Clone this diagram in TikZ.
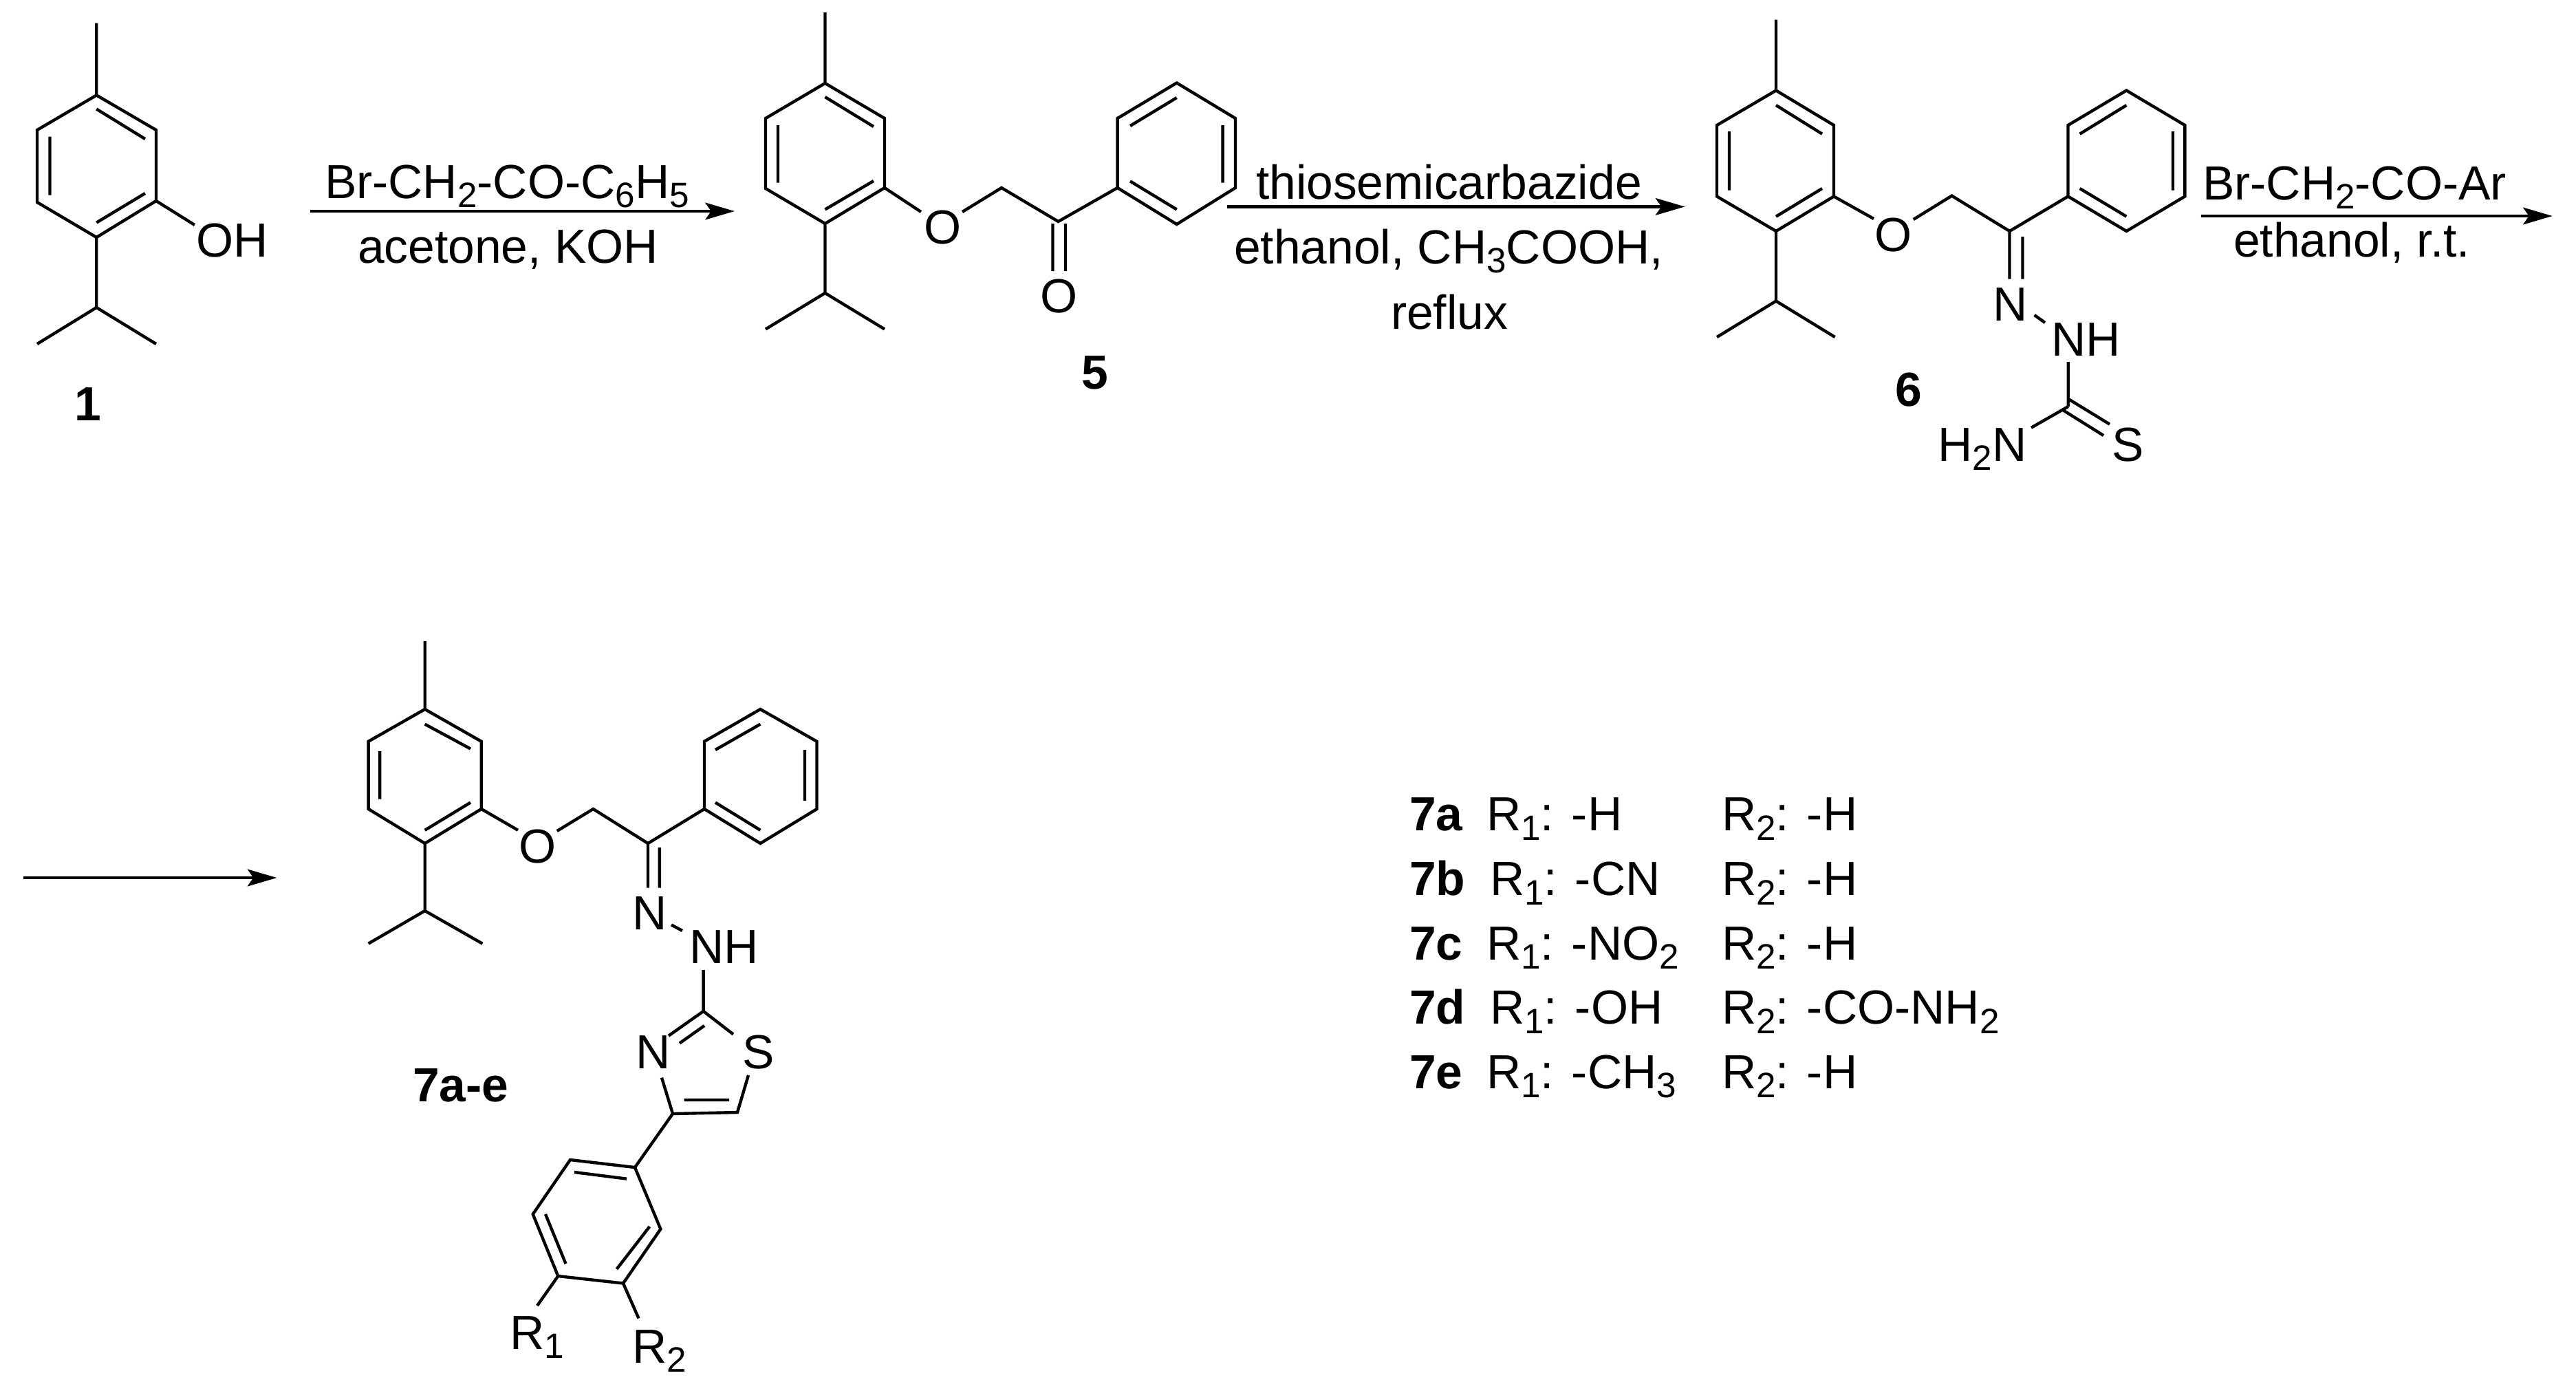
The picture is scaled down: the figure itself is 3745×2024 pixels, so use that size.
\documentclass[tikz,border=0pt]{standalone}
\usepackage{fontspec}
\setmainfont{Liberation Sans}
\usetikzlibrary{arrows.meta}
\newcommand{\sbs}[1]{\raisebox{-3.2pt}{\fontsize{12.3pt}{14pt}\selectfont #1}}
\tikzset{
  bond/.style={line width=1.05pt,line join=miter,line cap=butt},
  rxn/.style={line width=1.13pt,-{Stealth[length=10.2pt,width=5.9pt,inset=2pt]}},
  txt/.style={anchor=base west,inner sep=0pt,outer sep=0pt,font=\fontsize{16.7pt}{20pt}\selectfont},
  lbl/.style={txt,font=\fontsize{16.7pt}{20pt}\selectfont\bfseries}
}
\begin{document}
\begin{tikzpicture}[x=0.24pt,y=-0.24pt]
\useasboundingbox (0,0) rectangle (3745,2024);
% ---------- compound 1
\coordinate (a0) at (140.3,33.5);
\coordinate (a1) at (140.3,138.4);
\coordinate (a2) at (227,189);
\coordinate (a3) at (227,292);
\coordinate (a4) at (140.3,345);
\coordinate (a5) at (54,294);
\coordinate (a6) at (54,189);
\coordinate (a7) at (140.3,447);
\coordinate (a8) at (54,500);
\coordinate (a9) at (227,500);
\coordinate (aO) at (283,327);
\coordinate (ai1) at (140.3,158.5);
\coordinate (ai2) at (211,202);
\coordinate (ai3) at (72.5,198.6);
\coordinate (ai4) at (72.5,283.5);
\coordinate (ai5) at (140.3,323.6);
\coordinate (ai6) at (211,281);
\draw[bond] (a1)--(a2)--(a3)--(a4)--(a5)--(a6)--cycle;
\draw[bond] (a0)--(a1) (a4)--(a7) (a8)--(a7)--(a9) (a3)--(aO);
\draw[bond] (ai1)--(ai2) (ai3)--(ai4) (ai5)--(ai6);
\node[txt] (oh1) at (285,373) {OH};
\node[lbl] (n1) at (108,611) {1};
% ---------- arrow 1
\coordinate (r1s) at (451,307);
\coordinate (r1e) at (1068,307);
\draw[rxn] (r1s)--(r1e);
\node[txt] (r1a) at (472,288) {Br-CH\sbs{2}-CO-C\sbs{6}H\sbs{5}};
\node[txt] (r1b) at (520,382) {acetone, KOH};
% ---------- compound 5
\coordinate (b0) at (1199.5,18);
\coordinate (b1) at (1199.5,121);
\coordinate (b2) at (1286,172);
\coordinate (b3) at (1286,273);
\coordinate (b4) at (1199.5,325);
\coordinate (b5) at (1113,274);
\coordinate (b6) at (1113,172);
\coordinate (b7) at (1199.5,426);
\coordinate (b8) at (1113,478.5);
\coordinate (b9) at (1286,478.5);
\coordinate (bi1) at (1199.5,141);
\coordinate (bi2) at (1270,184);
\coordinate (bi3) at (1131,182);
\coordinate (bi4) at (1131,265.5);
\coordinate (bi5) at (1199.5,304.5);
\coordinate (bi6) at (1270,263);
\coordinate (bO1) at (1339,308);
\coordinate (bO2) at (1399,308);
\coordinate (bc) at (1456,273);
\coordinate (bd) at (1538.5,322);
\coordinate (be) at (1624.6,273);
\coordinate (bf) at (1710.7,120.5);
\coordinate (bg) at (1624.6,172);
\coordinate (bh) at (1796,172);
\coordinate (bj) at (1796,273);
\coordinate (bk) at (1710.7,326);
\coordinate (bl1) at (1710.7,142);
\coordinate (bl2) at (1643,183);
\coordinate (bl3) at (1777.6,182);
\coordinate (bl4) at (1777.6,265.6);
\coordinate (bl5) at (1643,263.4);
\coordinate (bl6) at (1710.7,304.5);
\coordinate (bm1) at (1530.5,325);
\coordinate (bm2) at (1530.5,394);
\coordinate (bm3) at (1549,325);
\coordinate (bm4) at (1549,394);
\draw[bond] (b1)--(b2)--(b3)--(b4)--(b5)--(b6)--cycle;
\draw[bond] (b0)--(b1) (b4)--(b7) (b8)--(b7)--(b9) (b3)--(bO1) (bO2)--(bc)--(bd)--(be);
\draw[bond] (bi1)--(bi2) (bi3)--(bi4) (bi5)--(bi6);
\draw[bond] (be)--(bg)--(bf)--(bh)--(bj)--(bk)--cycle;
\draw[bond] (bl1)--(bl2) (bl3)--(bl4) (bl5)--(bl6) (bm1)--(bm2) (bm3)--(bm4);
\node[txt] (o5a) at (1343,354) {O};
\node[txt] (o5b) at (1512,454) {O};
\node[lbl] (n5) at (1572,565) {5};
% ---------- arrow 2
\coordinate (r2s) at (1784,300.4);
\coordinate (r2e) at (2449.5,300.4);
\draw[rxn] (r2s)--(r2e);
\node[txt] (r2a) at (1826,289) {thiosemicarbazide};
\node[txt] (r2b) at (1794,383) {ethanol, CH\sbs{3}COOH,};
\node[txt] (r2c) at (2022,478.5) {reflux};
% ---------- compound 6
\coordinate (c0) at (2582,28.7);
\coordinate (c1) at (2582,131.5);
\coordinate (c2) at (2666,182);
\coordinate (c3) at (2666,285.5);
\coordinate (c4) at (2582,336);
\coordinate (c5) at (2496,285.5);
\coordinate (c6) at (2496,182);
\coordinate (c7) at (2582,437.6);
\coordinate (c8) at (2496,490);
\coordinate (c9) at (2667.6,490);
\coordinate (ci1) at (2582,153);
\coordinate (ci2) at (2649,194.7);
\coordinate (ci3) at (2514,191);
\coordinate (ci4) at (2514,276.5);
\coordinate (ci5) at (2582,314.7);
\coordinate (ci6) at (2649,274);
\coordinate (cO1) at (2724,318);
\coordinate (cO2) at (2781.7,319);
\coordinate (cc) at (2837.5,284.6);
\coordinate (cd) at (2921.5,336);
\coordinate (ce) at (3006.5,285.5);
\coordinate (cf) at (3091.4,131.5);
\coordinate (cg) at (3006.5,182);
\coordinate (ch) at (3176.3,182);
\coordinate (cj) at (3176.3,285.5);
\coordinate (ck) at (3091.4,336);
\coordinate (cl1) at (3091.4,153);
\coordinate (cl2) at (3023.6,194.7);
\coordinate (cl3) at (3159,191);
\coordinate (cl4) at (3159,276.5);
\coordinate (cl5) at (3023.6,274);
\coordinate (cl6) at (3091.4,314.7);
\coordinate (cm1) at (2921.5,336);
\coordinate (cm2) at (2921.5,405.6);
\coordinate (cm3) at (2940.4,344);
\coordinate (cm4) at (2940.4,405.6);
\coordinate (cn1) at (2957.6,458);
\coordinate (cn2) at (2973,469);
\coordinate (cp1) at (3006.7,526);
\coordinate (cp2) at (3006.7,591);
\coordinate (cq1) at (3007,580);
\coordinate (cq2) at (3067,616.7);
\coordinate (cq3) at (3000,596.7);
\coordinate (cq4) at (3058,633);
\coordinate (cr) at (2953,621.7);
\draw[bond] (c1)--(c2)--(c3)--(c4)--(c5)--(c6)--cycle;
\draw[bond] (c0)--(c1) (c4)--(c7) (c8)--(c7)--(c9) (c3)--(cO1) (cO2)--(cc)--(cd)--(ce);
\draw[bond] (ci1)--(ci2) (ci3)--(ci4) (ci5)--(ci6);
\draw[bond] (ce)--(cg)--(cf)--(ch)--(cj)--(ck)--cycle;
\draw[bond] (cl1)--(cl2) (cl3)--(cl4) (cl5)--(cl6) (cm1)--(cm2) (cm3)--(cm4);
\draw[bond] (cn1)--(cn2) (cp1)--(cp2) (cq1)--(cq2) (cq3)--(cq4) (cp2)--(cr);
\node[txt] (o6) at (2725,365) {O};
\node[txt] (n6a) at (2897,466.7) {N};
\node[txt] (n6b) at (2982,517) {NH};
\node[txt] (n6c) at (2817.5,670) {H\sbs{2}N};
\node[txt] (s6) at (3070,670) {S};
\node[lbl] (n6) at (2755,590.7) {6};
% ---------- arrow 3
\coordinate (r3s) at (3199.5,314);
\coordinate (r3e) at (3710.7,314);
\draw[rxn] (r3s)--(r3e);
\node[txt] (r3a) at (3202,290) {Br-CH\sbs{2}-CO-Ar};
\node[txt] (r3b) at (3247,373) {ethanol, r.t.};
% ---------- arrow 4
\coordinate (r4s) at (34,1276);
\coordinate (r4e) at (402.5,1276);
\draw[rxn] (r4s)--(r4e);
% ---------- compound 7
\coordinate (d0) at (617.7,932);
\coordinate (d1) at (617.7,1031);
\coordinate (d2) at (699.8,1077.8);
\coordinate (d3) at (699.8,1176);
\coordinate (d4) at (617.7,1226);
\coordinate (d5) at (535.6,1176);
\coordinate (d6) at (535.6,1077.8);
\coordinate (d7) at (617.7,1324);
\coordinate (d8) at (535.6,1371.7);
\coordinate (d9) at (701.4,1371.7);
\coordinate (di1) at (617.7,1052.7);
\coordinate (di2) at (684,1088.5);
\coordinate (di3) at (552.3,1092);
\coordinate (di4) at (552.3,1161.6);
\coordinate (di5) at (617.7,1206.8);
\coordinate (di6) at (684,1166.6);
\coordinate (dO1) at (753,1206.8);
\coordinate (dO2) at (809.8,1208);
\coordinate (dc) at (862.4,1176);
\coordinate (dd) at (942,1226);
\coordinate (de) at (1024,1176);
\coordinate (df) at (1105.4,1031);
\coordinate (dg) at (1024,1077.8);
\coordinate (dh) at (1187.5,1077.8);
\coordinate (dj) at (1187.5,1176);
\coordinate (dk) at (1105.4,1226);
\coordinate (dl1) at (1105.4,1052.7);
\coordinate (dl2) at (1040,1090);
\coordinate (dl3) at (1170,1090);
\coordinate (dl4) at (1170,1163.8);
\coordinate (dl5) at (1040,1166.6);
\coordinate (dl6) at (1105.4,1206.8);
\coordinate (dm1) at (942,1226);
\coordinate (dm2) at (942,1290.7);
\coordinate (dm3) at (958.8,1232);
\coordinate (dm4) at (958.8,1290.7);
\coordinate (dn1) at (976,1344.4);
\coordinate (dn2) at (992,1353);
\coordinate (dp1) at (1022.6,1410);
\coordinate (dp2) at (1022.6,1470);
\coordinate (dq) at (1066,1503.5);
\coordinate (dr) at (972,1505.7);
\coordinate (dr1) at (1024,1491);
\coordinate (dr2) at (988,1516.5);
\coordinate (ds1) at (962,1566.6);
\coordinate (ds2) at (978,1619);
\coordinate (ds3) at (1072,1617);
\coordinate (ds4) at (1088,1563);
\coordinate (ds5) at (994.7,1599);
\coordinate (ds6) at (1060,1599);
\coordinate (e1) at (923,1697);
\coordinate (e2) at (829,1686);
\coordinate (e3) at (774.7,1765);
\coordinate (e4) at (811.3,1855);
\coordinate (e5) at (906,1865.5);
\coordinate (e6) at (960.4,1786.7);
\coordinate (ei1) at (835,1704);
\coordinate (ei2) at (911,1713.6);
\coordinate (ei3) at (793,1765);
\coordinate (ei4) at (822.5,1837);
\coordinate (ei5) at (896.6,1844.8);
\coordinate (ei6) at (944.4,1783);
\coordinate (er1) at (781,1898);
\coordinate (er2) at (928.5,1916.4);
\draw[bond] (d1)--(d2)--(d3)--(d4)--(d5)--(d6)--cycle;
\draw[bond] (d0)--(d1) (d4)--(d7) (d8)--(d7)--(d9) (d3)--(dO1) (dO2)--(dc)--(dd)--(de);
\draw[bond] (di1)--(di2) (di3)--(di4) (di5)--(di6);
\draw[bond] (de)--(dg)--(df)--(dh)--(dj)--(dk)--cycle;
\draw[bond] (dl1)--(dl2) (dl3)--(dl4) (dl5)--(dl6) (dm1)--(dm2) (dm3)--(dm4);
\draw[bond] (dn1)--(dn2) (dp1)--(dp2) (dp2)--(dq) (dp2)--(dr) (dr1)--(dr2);
\draw[bond] (ds1)--(ds2)--(ds3)--(ds4) (ds5)--(ds6) (ds2)--(e1);
\draw[bond] (e1)--(e2)--(e3)--(e4)--(e5)--(e6)--cycle;
\draw[bond] (ei1)--(ei2) (ei3)--(ei4) (ei5)--(ei6) (e4)--(er1) (e5)--(er2);
\node[txt] (o7) at (754,1254) {O};
\node[txt] (n7a) at (919,1351.6) {N};
\node[txt] (n7b) at (1002,1400) {NH};
\node[txt] (n7c) at (924.5,1553.7) {N};
\node[txt] (s7) at (1079,1553.7) {S};
\node[lbl] (n7) at (600,1601) {7a-e};
\node[txt] (r71) at (741,1961) {R\sbs{1}};
\node[txt] (r72) at (919,1981) {R\sbs{2}};
% ---------- table
\node[lbl] (ta) at (2049,1207.9) {7a};
\node[txt] (ta1) at (2161,1207.9) {R\sbs{1}: -H};
\node[txt] (ta2) at (2503,1207.9) {R\sbs{2}: -H};
\node[lbl] (tb) at (2049,1301.7) {7b};
\node[txt] (tb1) at (2166,1301.7) {R\sbs{1}: -CN};
\node[txt] (tb2) at (2503,1301.7) {R\sbs{2}: -H};
\node[lbl] (tc) at (2049,1395) {7c};
\node[txt] (tc1) at (2161,1395) {R\sbs{1}: -NO\sbs{2}};
\node[txt] (tc2) at (2503,1395) {R\sbs{2}: -H};
\node[lbl] (td) at (2049,1488.7) {7d};
\node[txt] (td1) at (2166,1488.7) {R\sbs{1}: -OH};
\node[txt] (td2) at (2503,1488.7) {R\sbs{2}: -CO-NH\sbs{2}};
\node[lbl] (te) at (2049,1582.6) {7e};
\node[txt] (te1) at (2161,1582.6) {R\sbs{1}: -CH\sbs{3}};
\node[txt] (te2) at (2503,1582.6) {R\sbs{2}: -H};
\end{tikzpicture}
\end{document}
